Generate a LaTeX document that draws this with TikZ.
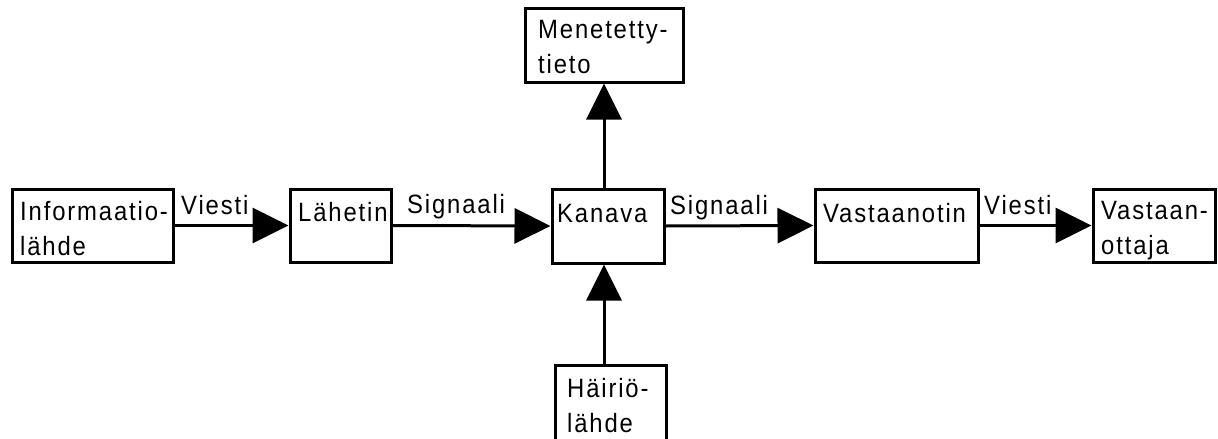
\documentclass[tikz,border=0pt]{standalone}
\usepackage{fontspec}
\setmainfont{Liberation Sans}[LetterSpace=7,FakeStretch=0.9]
\usetikzlibrary{arrows.meta,calc}
\begin{document}
\begin{tikzpicture}[x=1pt,y=-1pt,
  box/.style={draw=black,line width=3pt,rectangle,inner sep=0pt},
  txt/.style={anchor=base west,inner sep=0pt,align=left,font=\fontsize{26.5}{35}\selectfont},
  lbl/.style={anchor=base west,inner sep=0pt,font=\fontsize{26.5}{35}\selectfont},
  conn/.style={line width=3pt,-{Triangle[length=36pt,width=35pt]}}]
\useasboundingbox (0,0) rectangle (1218,439);
% boxes
\node[box,minimum width=161pt,minimum height=73pt] (info) at (92.5,225.5) {};
\node[box,minimum width=101pt,minimum height=73pt] (lah) at (340.5,225.5) {};
\node[box,minimum width=112pt,minimum height=74pt] (kan) at (608,226) {};
\node[box,minimum width=163pt,minimum height=73pt] (vas) at (896.5,225.5) {};
\node[box,minimum width=122pt,minimum height=73pt] (vot) at (1154,225.5) {};
\node[box,minimum width=158pt,minimum height=74pt] (men) at (604,45) {};
\node[box,minimum width=111pt,minimum height=85pt] (hai) at (610.5,407.5) {};
% texts (anchored at the baseline of the last line)
\node[txt] (tinfo) at (20,255) {Informaatio-\\lähde};
\node[txt] (tlah) at (298,221) {Lähetin};
\node[txt] (tkan) at (557,222) {Kanava};
\node[txt] (tvas) at (823,222) {Vastaanotin};
\node[txt] (tvot) at (1101,254) {Vastaan-\\ottaja};
\node[txt] (tmen) at (538,73) {Menetetty-\\tieto};
\node[txt] (thai) at (567,432) {Häiriö-\\lähde};
% connectors
\coordinate (vx) at (604,0);
\draw[conn] (info.east) -- (lah.west);
\draw[conn] (lah.east) -- (kan.west);
\draw[conn] (kan.east) -- (vas.west);
\draw[conn] (vas.east) -- (vot.west);
\draw[conn] (kan.north -| vx) -- (men.south -| vx);
\draw[conn] (hai.north -| vx) -- (kan.south -| vx);
% connector labels
\node[lbl] (l1) at (181,214) {Viesti};
\node[lbl] (l2) at (407,213) {Signaali};
\node[lbl] (l3) at (670,214) {Signaali};
\node[lbl] (l4) at (984,214) {Viesti};
\end{tikzpicture}
\end{document}
